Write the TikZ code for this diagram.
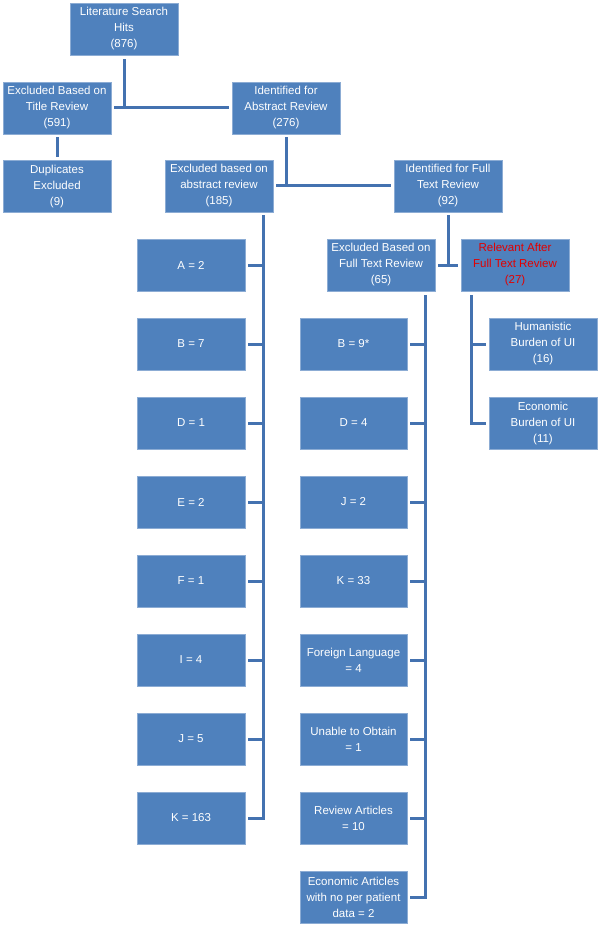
\documentclass[tikz,border=0pt]{standalone}
\usepackage{fontspec}
\setmainfont{Liberation Sans}
\usetikzlibrary{positioning}

\definecolor{boxblue}{RGB}{79,129,189}
\definecolor{boxedge}{RGB}{140,172,212}
\definecolor{linkblue}{RGB}{68,114,176}
\definecolor{hitred}{RGB}{226,0,0}

\begin{document}
\begin{tikzpicture}[
    x=1pt, y=-1pt,
    box/.style={rectangle, draw=boxedge, line width=0.6pt, fill=boxblue, text=white, align=center, minimum width=108pt, minimum height=52pt, inner sep=0pt, font=\fontsize{11.5}{16}\selectfont},
    link/.style={draw=linkblue, line width=3pt}
  ]
    \useasboundingbox (0,0) rectangle (600,925);

    % Search and title screening
    \node[box] (hits) at (124,29) {Literature Search\\Hits\\(876)};
    \node[box] (title) at (57,108) {Excluded Based on\\Title Review\\(591)};
    \node[box] (abs) at (286,108) {Identified for\\Abstract Review\\(276)};
    \node[box, below=26pt of title] (dup) {Duplicates\\Excluded\\(9)};

    % Abstract screening
    \node[box] (exabs) at (219,186) {Excluded based on\\abstract review\\(185)};
    \node[box] (idfull) at (448,186) {Identified for Full\\Text Review\\(92)};

    % Full text screening
    \node[box] (exfull) at (381,265) {Excluded Based on\\Full Text Review\\(65)};
    \node[box, text=hitred] (rel) at (515,265) {Relevant After\\Full Text Review\\(27)};
    \node[box] (hum) at (543,344) {Humanistic\\Burden of UI\\(16)};
    \node[box, below=27pt of hum] (econ) {Economic\\Burden of UI\\(11)};

    % Reasons for exclusion
    \foreach \lab [count=\i from 0] in {A = 2, B = 7, D = 1, E = 2, F = 1, I = 4, J = 5, K = 163}
      \node[box] (ab\i) at (191,265+79*\i) {\lab};
    \foreach \lab [count=\i from 0] in {B = 9*, D = 4, J = 2, K = 33, Foreign Language\\= 4, Unable to Obtain\\= 1, Review Articles\\= 10, Economic Articles\\with no per patient\\data = 2}
      \node[box, minimum width=107pt] (ft\i) at (353.5,344+79*\i) {\lab};

    % Connections
    \draw[link] ([yshift=-4pt]hits.south) -- (hits.south |- title.east);
    \draw[link] ([xshift=3pt]title.east) -- ([xshift=-3pt]abs.west);
    \draw[link] ([yshift=-3pt]title.south) -- ([yshift=3pt]dup.north);
    \draw[link] ([yshift=-3pt]abs.south) -- (abs.south |- exabs.east);
    \draw[link] ([xshift=3pt]exabs.east) -- ([xshift=-3pt]idfull.west);
    \draw[link] ([yshift=-3pt]idfull.south) -- (idfull.south |- exfull.east);
    \draw[link] ([xshift=3pt]exfull.east) -- ([xshift=-3pt]rel.west);

    \coordinate (spineA) at ([xshift=-10pt,yshift=-3pt]exabs.south east);
    \draw[link] (spineA) |- ([xshift=3pt]ab7.east);
    \foreach \i in {0,...,6}
      \draw[link] ([xshift=3pt]ab\i.east) -- (spineA |- ab\i.east);

    \coordinate (spineF) at ([xshift=-10pt,yshift=-4pt]exfull.south east);
    \draw[link] (spineF) |- ([xshift=3pt]ft7.east);
    \foreach \i in {0,...,6}
      \draw[link] ([xshift=3pt]ft\i.east) -- (spineF |- ft\i.east);

    \coordinate (spineR) at ([xshift=11pt,yshift=-4pt]rel.south west);
    \draw[link] (spineR) |- ([xshift=-3pt]econ.west);
    \draw[link] (spineR |- hum.west) -- ([xshift=-3pt]hum.west);

  \end{tikzpicture}
\end{document}
